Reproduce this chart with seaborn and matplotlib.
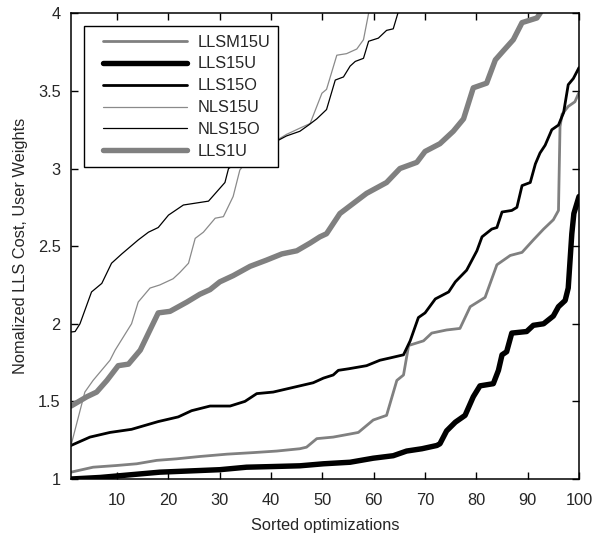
import matplotlib
matplotlib.use("Agg")
import matplotlib.pyplot as plt
from matplotlib.legend_handler import HandlerLine2D
import seaborn as sns
import pandas as pd

# ---- data ----
llsm15u_x = [1, 5.3, 9.9, 13.8, 17.7, 21.6, 26.1, 31.4, 36.5, 41.1, 45.6, 46.9, 48.9, 52.1, 55.4, 57.0,
             59.9, 62.5, 64.5, 65.8, 66.8, 69.7, 71.3, 74.2, 76.8, 78.8, 81.7, 84.0, 86.6, 88.9, 91.1,
             93.1, 95.0, 96.0, 96.3, 96.7, 97.9, 99.2, 100]
llsm15u_y = [1.044, 1.076, 1.087, 1.098, 1.12, 1.13, 1.145, 1.16, 1.17, 1.18, 1.195, 1.205, 1.26, 1.27,
             1.29, 1.30, 1.38, 1.41, 1.635, 1.67, 1.86, 1.89, 1.94, 1.96, 1.97, 2.11, 2.17, 2.38, 2.44,
             2.46, 2.54, 2.61, 2.67, 2.73, 3.27, 3.35, 3.40, 3.43, 3.49]

lls15u_x = [1, 6.7, 18.3, 30, 35.2, 40, 45.6, 50.2, 55.4, 59.9, 63.8, 66.4, 69.4, 72.3, 72.9, 74.2, 75.9,
            77.8, 79.4, 80.7, 83.3, 84.3, 85.0, 85.9, 86.9, 89.8, 91.1, 93.1, 95.0, 96.0, 97.3, 97.9,
            98.6, 99.0, 100]
lls15u_y = [1.0, 1.01, 1.044, 1.06, 1.076, 1.08, 1.085, 1.098, 1.108, 1.134, 1.15, 1.18, 1.195, 1.216,
            1.227, 1.31, 1.366, 1.41, 1.53, 1.60, 1.614, 1.70, 1.80, 1.82, 1.94, 1.95, 1.99, 2.00, 2.05,
            2.11, 2.15, 2.23, 2.58, 2.71, 2.82]

lls15o_x = [1, 4.7, 8.6, 12.8, 18.0, 21.9, 24.5, 28.1, 32.0, 34.9, 37.2, 40.4, 44.3, 48.2, 50.2, 52.1,
            53.1, 55.1, 58.6, 61.2, 63.2, 65.8, 67.1, 68.7, 70.0, 72.0, 74.6, 75.9, 78.1, 80.1, 81.1,
            83.0, 84.0, 85.0, 86.9, 87.9, 88.9, 90.5, 91.5, 92.4, 93.4, 94.7, 96.0, 97.0, 97.9, 98.9, 100]
lls15o_y = [1.216, 1.27, 1.30, 1.32, 1.37, 1.40, 1.44, 1.47, 1.47, 1.50, 1.55, 1.56, 1.59, 1.62, 1.65,
            1.67, 1.70, 1.71, 1.73, 1.765, 1.78, 1.80, 1.89, 2.04, 2.07, 2.16, 2.205, 2.27, 2.345, 2.47,
            2.56, 2.61, 2.62, 2.72, 2.73, 2.75, 2.89, 2.91, 3.03, 3.10, 3.15, 3.25, 3.28, 3.36, 3.54,
            3.58, 3.65]

nls15u_x = [1, 3.7, 5.3, 8.6, 9.6, 11.2, 12.8, 14.1, 16.4, 18.3, 20.9, 22.2, 23.9, 25.2, 26.8, 29.1,
            30.7, 32.6, 33.9, 36, 39, 43, 45.6, 47.6, 49.9, 50.8, 52.8, 54.7, 56.7, 58, 59, 60]
nls15u_y = [1.216, 1.56, 1.635, 1.765, 1.83, 1.915, 2.00, 2.14, 2.23, 2.25, 2.29, 2.33, 2.39, 2.55, 2.59,
            2.68, 2.69, 2.82, 2.99, 3.08, 3.14, 3.22, 3.26, 3.29, 3.485, 3.51, 3.73, 3.74, 3.77, 3.83,
            4.0, 4.1]

nls15o_x = [1, 1.8, 2.75, 5.0, 7.0, 8.9, 10.9, 14.1, 16.1, 18.0, 20.0, 22.9, 27.8, 31.0, 31.7, 35, 39,
            43, 45.6, 47.3, 48.9, 50.8, 52.5, 54.1, 55.4, 56.4, 58.0, 59.0, 60.9, 62.5, 63.8, 64.7, 66]
nls15o_y = [1.947, 1.95, 2.00, 2.205, 2.26, 2.39, 2.45, 2.54, 2.59, 2.62, 2.70, 2.765, 2.79, 2.91, 3.0,
            3.07, 3.14, 3.21, 3.24, 3.28, 3.32, 3.38, 3.57, 3.59, 3.66, 3.69, 3.71, 3.82, 3.84, 3.89,
            3.90, 4.0, 4.1]

lls1u_x = [1, 4.1, 6.0, 8.0, 10.2, 12.2, 14.5, 16.1, 18.0, 20.3, 23.6, 26.1, 28.1, 30.0, 32.6, 35.9,
           39.1, 42.1, 45.0, 47.6, 49.5, 50.8, 53.4, 58.6, 62.5, 65.1, 68.4, 70.0, 72.9, 75.5, 77.5,
           79.4, 82.0, 83.7, 85.3, 87.2, 88.9, 91.8, 92.4, 94]
lls1u_y = [1.47, 1.53, 1.56, 1.635, 1.73, 1.74, 1.83, 1.94, 2.07, 2.08, 2.14, 2.19, 2.22, 2.27, 2.31,
           2.37, 2.41, 2.45, 2.47, 2.52, 2.56, 2.58, 2.71, 2.84, 2.91, 3.0, 3.04, 3.11, 3.16, 3.24,
           3.32, 3.52, 3.55, 3.70, 3.76, 3.83, 3.94, 3.97, 4.0, 4.1]

series_names = ["LLSM15U", "LLS15U", "LLS15O", "NLS15U", "NLS15O", "LLS1U"]
series_x = [llsm15u_x, lls15u_x, lls15o_x, nls15u_x, nls15o_x, lls1u_x]
series_y = [llsm15u_y, lls15u_y, lls15o_y, nls15u_y, nls15o_y, lls1u_y]

x_ticks = [10, 20, 30, 40, 50, 60, 70, 80, 90, 100]
y_ticks = [1, 1.5, 2, 2.5, 3, 3.5, 4]
y_tick_labels = ["1", "1.5", "2", "2.5", "3", "3.5", "4"]

# ---- styles ----
colors = ["#808080", "#000000", "#000000", "#8a8a8a", "#000000", "#808080"]
widths = [2.0, 3.9, 2.0, 0.9, 0.9, 3.9]
FS = 11.8

sns.set_theme(style="white")
plt.rcParams["font.family"] = ["Liberation Sans", "DejaVu Sans"]

fig = plt.figure(figsize=(5.93, 5.36), dpi=100)
W, H = 593, 536
ax = fig.add_axes([71 / W, 1 - 479 / H, (579 - 71) / W, (479 - 13.3) / H])

for name, xs, ys, c, lw in zip(series_names, series_x, series_y, colors, widths):
    df = pd.DataFrame({"x": xs, "y": ys})
    sns.lineplot(data=df, x="x", y="y", ax=ax, color=c, linewidth=lw, label=name,
                 estimator=None, sort=False)

ax.set_xlim(1, 100)
ax.set_ylim(1, 4)
ax.set_xticks(x_ticks)
ax.set_xticklabels([str(t) for t in x_ticks])
ax.set_yticks(y_ticks)
ax.set_yticklabels(y_tick_labels)
ax.set_xlabel("Sorted optimizations", fontsize=FS, labelpad=7)
ax.set_ylabel("Nomalized LLS Cost, User Weights", fontsize=FS, labelpad=7)
ax.tick_params(direction="in", length=5, width=1, top=True, right=True, labelsize=FS,
               color="black", bottom=True, left=True)
ax.tick_params(axis="x", pad=10)
ax.tick_params(axis="y", pad=7.5)
for s in ax.spines.values():
    s.set_visible(True)
    s.set_color("black")
    s.set_linewidth(1.1)

hmap = {h: HandlerLine2D(xpad=0.66) for h in ax.get_lines()}
leg = ax.legend(loc="upper left", fontsize=FS, frameon=True, fancybox=False, framealpha=1,
                edgecolor="black", handlelength=5.8, handletextpad=0.6, labelspacing=0.42,
                borderpad=0.5, borderaxespad=0.8, handler_map=hmap)
leg.get_frame().set_linewidth(1.0)

fig.savefig("out.png", dpi=100)
